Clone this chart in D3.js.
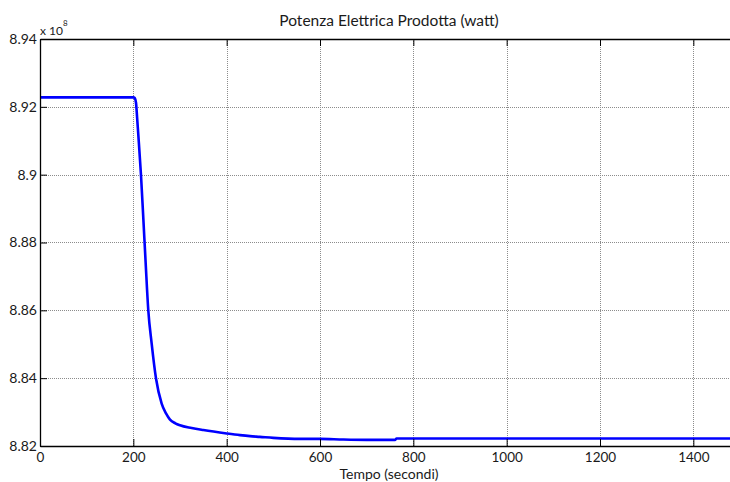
<!DOCTYPE html>
<html>
<head>
<meta charset="utf-8">
<script src="https://cdn.jsdelivr.net/npm/d3@7"></script>
<style>
  html, body { margin: 0; padding: 0; background: #fff; }
  svg text { font-family: Lato, "Open Sans", sans-serif; fill: #1a1a1a; }
</style>
</head>
<body>
<svg id="chart" width="730" height="482"></svg>
<script>
// Time (s) and electrical power (units of 1e8 W)
const timeSec = [0, 100, 200, 203, 205.7, 208, 210.7, 216.4, 221.4, 226.4, 232, 239.3, 248.6, 260.7, 270, 278.6, 290, 300, 325, 350, 400, 428.6, 450, 471, 500, 557, 600, 650, 700, 760.7, 764, 900, 1100, 1300, 1500];
const powerE8 = [8.9228, 8.9228, 8.9228, 8.9226, 8.9212, 8.9170, 8.9117, 8.8999, 8.8871, 8.8740, 8.8601, 8.8502, 8.8399, 8.8325, 8.8296, 8.8278, 8.8267, 8.8261, 8.8253, 8.8247, 8.8237, 8.8232, 8.8229, 8.8227, 8.8224, 8.8221, 8.8221, 8.8219, 8.8218, 8.8218, 8.8222, 8.8222, 8.8222, 8.8222, 8.8222];
const xTicks = [0, 200, 400, 600, 800, 1000, 1200, 1400];
const yTicks = [8.82, 8.84, 8.86, 8.88, 8.9, 8.92, 8.94];
const titleText = "Potenza Elettrica Prodotta (watt)";
const xLabelText = "Tempo (secondi)";

const svg = d3.select("#chart");
const m = { left: 40, top: 39, right: 740, bottom: 446 };

const x = d3.scaleLinear().domain([0, 1500]).range([m.left, m.right]);
const y = d3.scaleLinear().domain([8.82, 8.94]).range([m.bottom, m.top]);

// grid
const grid = svg.append("g").attr("stroke", "#8c8c8c").attr("stroke-width", 1).attr("stroke-dasharray", "1,1");
grid.selectAll(".gx").data(xTicks.filter(d => d > 0)).join("line")
  .attr("x1", d => Math.round(x(d)) + 0.5).attr("x2", d => Math.round(x(d)) + 0.5)
  .attr("y1", m.top).attr("y2", m.bottom);
grid.selectAll(".gy").data(yTicks.filter(d => d > 8.82 && d < 8.94)).join("line")
  .attr("y1", d => Math.round(y(d)) + 0.5).attr("y2", d => Math.round(y(d)) + 0.5)
  .attr("x1", m.left).attr("x2", m.right);

// data line
const line = d3.line().x((d, i) => x(timeSec[i])).y(d => y(d)).curve(d3.curveMonotoneX);
svg.append("path").datum(powerE8)
  .attr("fill", "none").attr("stroke", "#0000ff").attr("stroke-width", 2.6)
  .attr("stroke-linejoin", "round")
  .attr("d", line);

// axes (inward ticks, box style)
const fmtY = d => d3.format(".2f")(d).replace(/0$/, "");
const xAxisB = d3.axisBottom(x).tickValues(xTicks).tickSizeInner(-7).tickSizeOuter(0).tickPadding(6).tickFormat(d3.format("d"));
const xAxisT = d3.axisTop(x).tickValues(xTicks).tickSizeInner(-7).tickSizeOuter(0).tickFormat("");
const yAxisL = d3.axisLeft(y).tickValues(yTicks).tickSizeInner(-7).tickSizeOuter(0).tickPadding(3).tickFormat(fmtY);

function styleAxis(g, size) {
  g.select(".domain").attr("stroke", "#000").attr("stroke-width", 1.3);
  g.selectAll(".tick line").attr("stroke", "#000").attr("stroke-width", 1);
  g.selectAll(".tick text").attr("fill", "#1a1a1a").style("font-size", size).attr("font-family", null);
}

svg.append("g").attr("transform", `translate(0,${m.bottom})`).call(xAxisB).call(styleAxis, "13.5px");
svg.append("g").attr("transform", `translate(0,${m.top})`).call(xAxisT).call(styleAxis, "13.5px");
svg.append("g").attr("transform", `translate(${m.left},0)`).call(yAxisL).call(styleAxis, "14px");

// exponent label
const ex = svg.append("text").attr("x", 40).attr("y", 35).style("font-size", "12px");
ex.append("tspan").text("x 10");
ex.append("tspan").attr("dy", -9).style("font-size", "8px").text("8");

// title and axis label
svg.append("text").attr("x", 389).attr("y", 26).attr("text-anchor", "middle").style("font-size", "15.5px").text(titleText);
svg.append("text").attr("x", 389).attr("y", 479).attr("text-anchor", "middle").style("font-size", "14px").text(xLabelText);
</script>
</body>
</html>
